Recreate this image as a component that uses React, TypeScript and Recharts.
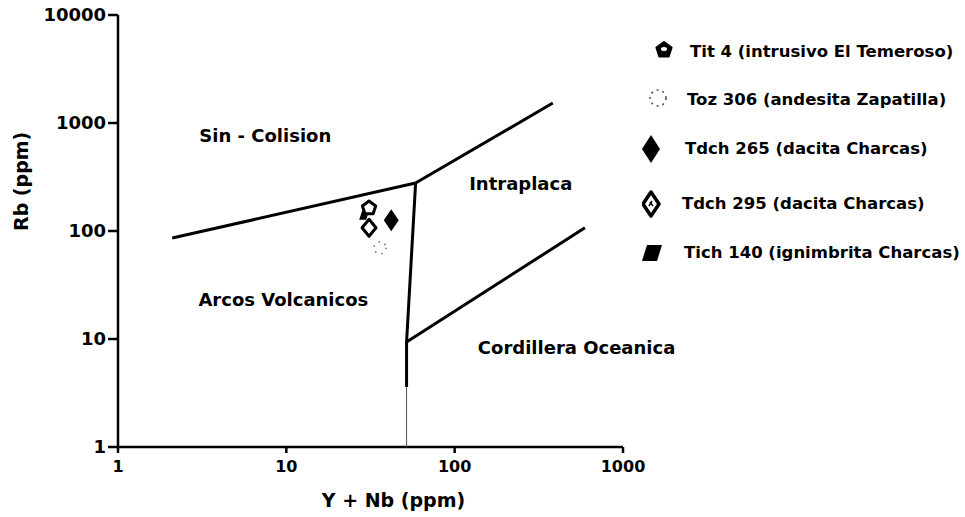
import React from "react";
import { ScatterChart, Scatter, XAxis, YAxis, ReferenceDot } from "recharts";

// tick labels
const xTicks = [1, 10, 100, 1000];
const yTicks = [1, 10, 100, 1000, 10000];

// samples (Y+Nb, Rb)
const tit4 = [{ x: 31, y: 163 }];
const toz306 = [{ x: 36, y: 70 }];
const tdch265 = [{ x: 42, y: 126 }];
const tdch295 = [{ x: 31, y: 107 }];
const tich140 = [{ x: 29, y: 140 }];

// field boundaries
const colisionArcos = [{ x: 2.1, y: 86 }, { x: 58.6, y: 278 }];
const colisionIntraplaca = [{ x: 58.6, y: 278 }, { x: 383, y: 1530 }];
const arcosIntraplaca = [{ x: 58.6, y: 278 }, { x: 51.8, y: 9.4 }, { x: 51.8, y: 3.6 }];
const arcosOceanicaThin = [{ x: 51.8, y: 3.6 }, { x: 51.8, y: 1 }];
const intraplacaOceanica = [{ x: 51.8, y: 9.4 }, { x: 594, y: 107 }];

// field names
const fieldLabels = [
  { x: 7.5, y: 774, name: "Sin - Colision" },
  { x: 247, y: 278, name: "Intraplaca" },
  { x: 9.6, y: 23, name: "Arcos Volcanicos" },
  { x: 530, y: 8.3, name: "Cordillera Oceanica" },
];

const legendNames = [
  "Tit 4 (intrusivo El Temeroso)",
  "Toz 306 (andesita Zapatilla)",
  "Tdch 265 (dacita Charcas)",
  "Tdch 295 (dacita Charcas)",
  "Tich 140 (ignimbrita Charcas)",
];

const FONT = "'DejaVu Sans', sans-serif";

const pentagonPoints = (cx: number, cy: number, r: number) =>
  Array.from({ length: 5 }, (_, i) => {
    const a = -Math.PI / 2 + (i * 2 * Math.PI) / 5;
    return `${cx + r * Math.cos(a)},${cy + r * Math.sin(a)}`;
  }).join(" ");

const diamondPoints = (cx: number, cy: number, w: number, h: number) =>
  `${cx},${cy - h / 2} ${cx + w / 2},${cy} ${cx},${cy + h / 2} ${cx - w / 2},${cy}`;

const paraPoints = (cx: number, cy: number, w: number, h: number, s: number) =>
  `${cx - w / 2 + s},${cy - h / 2} ${cx + w / 2},${cy - h / 2} ${cx + w / 2 - s},${cy + h / 2} ${cx - w / 2},${cy + h / 2}`;

const PentagonShape = (p: any) => (
  <polygon points={pentagonPoints(p.cx, p.cy, 7)} fill="#fff" stroke="#000" strokeWidth={3} strokeLinejoin="round" />
);
const CircleShape = (p: any) => (
  <circle cx={p.cx} cy={p.cy} r={6} fill="none" stroke="#666" strokeWidth={1.5} strokeDasharray="1.5 5" />
);
const FilledDiamondShape = (p: any) => <polygon points={diamondPoints(p.cx, p.cy, 15, 22)} fill="#000" />;
const OpenDiamondShape = (p: any) => (
  <polygon points={diamondPoints(p.cx, p.cy, 14, 17)} fill="#fff" stroke="#000" strokeWidth={3} strokeLinejoin="round" />
);
const ParaShape = (p: any) => <polygon points={paraPoints(p.cx, p.cy, 10, 9, 3)} fill="#000" />;
const NoShape = () => <g />;

const fieldLabelShape = (name: string) => (p: any) => (
  <text
    x={p.cx}
    y={p.cy}
    textAnchor="middle"
    dominantBaseline="central"
    fontFamily={FONT}
    fontWeight="bold"
    fontSize={18}
    fill="#000"
  >
    {name}
  </text>
);

const legendSymbols = [
  <g key="0">
    <polygon points={pentagonPoints(12, 12, 8)} fill="#000" stroke="#000" strokeWidth={2} strokeLinejoin="round" />
    <ellipse cx={12} cy={11} rx={3} ry={2} fill="#fff" />
  </g>,
  <circle key="1" cx={10} cy={12} r={8} fill="none" stroke="#444" strokeWidth={1.5} strokeDasharray="2 4" />,
  <polygon key="2" points={diamondPoints(9, 14, 18, 28)} fill="#000" />,
  <g key="3">
    <polygon points={diamondPoints(9, 14, 16, 24)} fill="#fff" stroke="#000" strokeWidth={3.5} strokeLinejoin="round" />
    <path d="M8 12 L11 16 M10 11 L7 16" stroke="#000" strokeWidth={1.5} />
  </g>,
  <polygon key="4" points={paraPoints(10, 14, 20, 16, 5)} fill="#000" />,
];

const legendSymbolX = [663, 659, 653, 653, 653];
const legendTextX = [690, 687, 685, 682, 684];
const legendRowY = [52, 100, 149, 204, 253];

const lineStyle = { stroke: "#000", strokeWidth: 3 };

export default function App() {
  return (
    <div style={{ position: "absolute", left: 0, top: 0, width: 965, height: 517, background: "#fff" }}>
      <ScatterChart width={965} height={517} margin={{ top: 15, right: 342, bottom: 20, left: 58 }}>
        <XAxis
          type="number"
          dataKey="x"
          scale="log"
          domain={[1, 1000]}
          ticks={xTicks}
          allowDataOverflow
          height={50}
          axisLine={{ stroke: "#000", strokeWidth: 2.5 }}
          tickLine={{ stroke: "#000", strokeWidth: 2.5 }}
          tickSize={6}
          tickMargin={8}
          tick={{ fill: "#000", fontSize: 16, fontWeight: "bold", fontFamily: FONT }}
          label={{
            value: "Y + Nb (ppm)",
            position: "insideBottom",
            offset: -10,
            dx: 23,
            fill: "#000",
            fontSize: 19,
            fontWeight: "bold",
            fontFamily: FONT,
          }}
        />
        <YAxis
          type="number"
          dataKey="y"
          scale="log"
          domain={[1, 10000]}
          ticks={yTicks}
          allowDataOverflow
          width={60}
          axisLine={{ stroke: "#000", strokeWidth: 2.5 }}
          tickLine={{ stroke: "#000", strokeWidth: 2.5 }}
          tickSize={10}
          tickMargin={2}
          tick={{ fill: "#000", fontSize: 18, fontWeight: "bold", fontFamily: FONT }}
          label={{
            value: "Rb (ppm)",
            angle: -90,
            position: "insideLeft",
            offset: -37,
            fill: "#000",
            fontSize: 19,
            fontWeight: "bold",
            fontFamily: FONT,
          }}
        />
        <Scatter data={colisionArcos} line={lineStyle} shape={NoShape} isAnimationActive={false} />
        <Scatter data={colisionIntraplaca} line={lineStyle} shape={NoShape} isAnimationActive={false} />
        <Scatter data={arcosIntraplaca} line={lineStyle} shape={NoShape} isAnimationActive={false} />
        <Scatter data={arcosOceanicaThin} line={{ stroke: "#555", strokeWidth: 1 }} shape={NoShape} isAnimationActive={false} />
        <Scatter data={intraplacaOceanica} line={lineStyle} shape={NoShape} isAnimationActive={false} />
        {fieldLabels.map((f) => (
          <ReferenceDot
            key={f.name}
            x={f.x}
            y={f.y}
            r={0}
            ifOverflow="visible"
            shape={fieldLabelShape(f.name)}
          />
        ))}
        <Scatter name={legendNames[4]} data={tich140} shape={ParaShape} isAnimationActive={false} />
        <Scatter name={legendNames[1]} data={toz306} shape={CircleShape} isAnimationActive={false} />
        <Scatter name={legendNames[2]} data={tdch265} shape={FilledDiamondShape} isAnimationActive={false} />
        <Scatter name={legendNames[3]} data={tdch295} shape={OpenDiamondShape} isAnimationActive={false} />
        <Scatter name={legendNames[0]} data={tit4} shape={PentagonShape} isAnimationActive={false} />
      </ScatterChart>
      {legendNames.map((name, i) => (
        <React.Fragment key={name}>
          <svg
            width={24}
            height={30}
            style={{ position: "absolute", left: legendSymbolX[i] - 11, top: legendRowY[i] - 14 }}
          >
            {legendSymbols[i]}
          </svg>
          <div
            style={{
              position: "absolute",
              left: legendTextX[i],
              top: legendRowY[i] - 11,
              height: 22,
              lineHeight: "22px",
              fontFamily: FONT,
              fontWeight: "bold",
              fontSize: 16.5,
              whiteSpace: "nowrap",
              color: "#000",
            }}
          >
            {name}
          </div>
        </React.Fragment>
      ))}
    </div>
  );
}
